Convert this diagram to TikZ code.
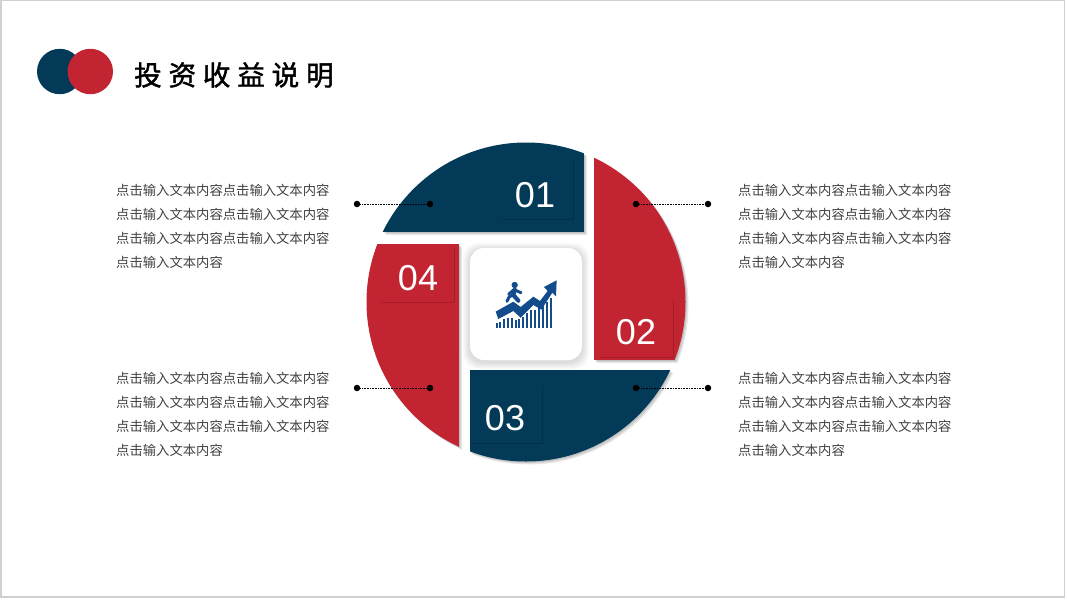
\documentclass[tikz,border=0pt]{standalone}
\usepackage{fontspec}
\setmainfont{Noto Sans CJK SC}
\newfontfamily\numfont{Liberation Sans}
\newfontfamily\titlefont[LetterSpace=25,FakeBold=1.6]{Noto Sans CJK SC}
\definecolor{navy}{HTML}{033A58}
\definecolor{crimson}{HTML}{C22431}
\definecolor{navyline}{HTML}{022E47}
\definecolor{crimsonline}{HTML}{A31E2A}
\definecolor{iconblue}{HTML}{124C8C}
\definecolor{framegray}{HTML}{D0D0D0}
\definecolor{bodygray}{HTML}{404040}
\newcommand{\infotext}{点击输入文本内容点击输入文本内容\\点击输入文本内容点击输入文本内容\\点击输入文本内容点击输入文本内容\\点击输入文本内容}
\begin{document}
\begin{tikzpicture}[x=1pt,y=-1pt,
    numlabel/.style={text=white,inner sep=0pt,font=\numfont\fontsize{36}{36}\selectfont},
    bodytext/.style={anchor=north west,align=left,inner sep=0pt,text=bodygray,font=\fontsize{13.33}{23.9}\selectfont},
    dot/.style={circle,fill=black,inner sep=0pt,minimum size=6.5pt},
    leader/.style={black,line width=.6pt,densely dotted}]
  \useasboundingbox (0,0) rectangle (1067,600);
  \draw[framegray,line width=1.5pt] (1,.7) rectangle (1064.5,597);
  \fill[navy] (59.7,71.5) circle (22.7pt);
  \fill[crimson] (90.3,71.5) circle (22.7pt);
  \node (title) [anchor=west,inner sep=0pt,font=\titlefont\fontsize{27.5}{27.5}\selectfont] at (134,75) {投资收益说明};
  \foreach \xa/\ya/\xb/\yb/\col in {370/130/583.5/232/navy,594/130/700/360/crimson,470/370/700/470/navy,360/244/459/470/crimson}{
    \foreach \d in {3,2,1}{
      \begin{scope}[shift={(\d,\d)}]
        \clip (526,302) circle (159.5pt);
        \fill[black,opacity=.09] (\xa,\ya) rectangle (\xb,\yb);
      \end{scope}
    }
    \begin{scope}
      \clip (526,302) circle (159.5pt);
      \fill[\col] (\xa,\ya) rectangle (\xb,\yb);
    \end{scope}
  }
  \draw[navyline,line width=.6pt] (502,219)--(573,219)--(573,160);
  \draw[crimsonline,line width=.8pt] (600,357)--(673,357)--(673,300);
  \draw[navyline,line width=.6pt] (470,443)--(542,443)--(542,385);
  \draw[crimsonline,line width=.8pt] (382,302)--(454,302)--(454,247);
  \node (n1) [numlabel] at (535,195) {01};
  \node (n2) [numlabel] at (636,332) {02};
  \node (n3) [numlabel] at (505,418) {03};
  \node (n4) [numlabel] at (418,278) {04};
  \foreach \d in {7,6,5,4,3,2,1}{
    \fill[black,opacity=.02,rounded corners=15pt] (470-\d,248-\d+2) rectangle (582+\d,360+\d+2);
  }
  \fill[white,rounded corners=14pt] (470,248) rectangle (582,360);
  \begin{scope}[shift={(480,265)},scale=.3333]
    \foreach \bx/\by in {50/175,60/170,72/163,84/158,96/158,108/165,118/162,130/155,142/145,154/135,166/135,178/130,190/118,202/110,214/100}{
      \draw[iconblue,line width=2.1pt] (\bx,188)--(\bx,\by);
    }
    \fill[iconblue] (47,140)--(100,110)--(122,126)--(160,95)--(180,108)--(203,78)--(192,66)--(230,46)--(228,94)--(217,83)--(184,134)--(160,120)--(122,158)--(100,138)--(55,162)--cycle;
    \fill[iconblue] (104,60) circle (9.5);
    \draw[iconblue,line width=3pt,line cap=round,line join=round] (86,88)--(102,74)--(123,83);
    \draw[iconblue,line width=4.2pt,line cap=round,line join=round] (104,74)--(100,90)--(115,107);
    \draw[iconblue,line width=3pt,line cap=round,line join=round] (100,90)--(88,95)--(81,109);
  \end{scope}
  \node (d1a) [dot] at (357,204) {};
  \node (d1b) [dot] at (430,204) {};
  \node (d2a) [dot] at (636,204) {};
  \node (d2b) [dot] at (708,204) {};
  \node (d3a) [dot] at (636,388) {};
  \node (d3b) [dot] at (708,388) {};
  \node (d4a) [dot] at (357,388) {};
  \node (d4b) [dot] at (430,388) {};
  \draw[leader] (d1a)--(d1b);
  \draw[leader] (d2a)--(d2b);
  \draw[leader] (d3a)--(d3b);
  \draw[leader] (d4a)--(d4b);
  \node (t1) [bodytext] at (116,184.5) {\infotext};
  \node (t2) [bodytext] at (738,184.5) {\infotext};
  \node (t3) [bodytext] at (738,372.5) {\infotext};
  \node (t4) [bodytext] at (116,372.5) {\infotext};
\end{tikzpicture}
\end{document}
